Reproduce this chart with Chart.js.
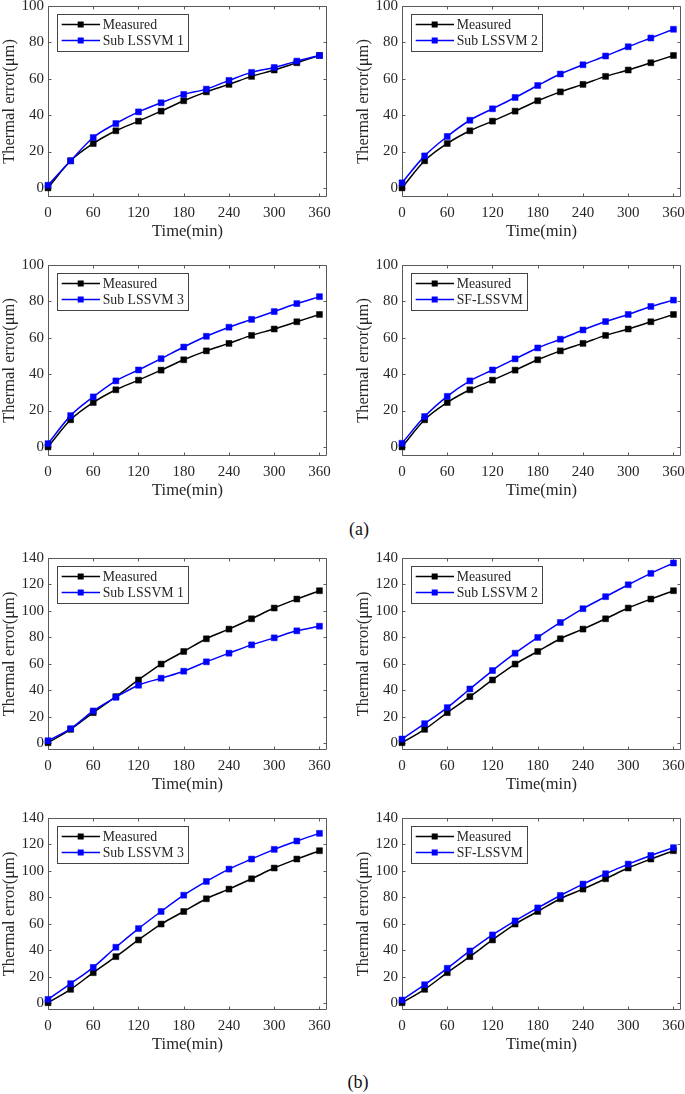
<!DOCTYPE html>
<html><head><meta charset="utf-8">
<script src="https://cdn.jsdelivr.net/npm/chart.js@4.4.0/dist/chart.umd.min.js"></script>
<style>
html,body{margin:0;padding:0;width:685px;height:1094px;overflow:hidden;background:#fff;}
body{position:relative;}
canvas{position:absolute;}
.lab{position:absolute;font-family:"Liberation Serif","Times New Roman",serif;font-size:18px;color:#111;transform:translate(-50%,-50%);white-space:nowrap;}
</style></head><body>
<div class="lab" style="left:359px;top:529px">(a)</div>
<div class="lab" style="left:358px;top:1082px">(b)</div>
<script>
// ---------- data ----------
const timeMin = [0, 30, 60, 90, 120, 150, 180, 210, 240, 270, 300, 330, 360];
const xTickLabels = [0, 60, 120, 180, 240, 300, 360];
const yTicksA = [0, 20, 40, 60, 80, 100];
const yTicksB = [0, 20, 40, 60, 80, 100, 120, 140];

const measuredA  = [0, 14.9, 24.4, 31.4, 36.7, 42.2, 47.9, 52.8, 56.9, 61.3, 64.8, 68.8, 72.8];
const subLssvm1A = [1.5, 14.9, 27.7, 35.4, 41.8, 46.8, 51.4, 54.3, 59.1, 63.5, 66.2, 69.7, 72.8];
const subLssvm2A = [2.8, 17.6, 28.3, 37.2, 43.5, 49.7, 56.3, 62.6, 67.7, 72.5, 77.6, 82.4, 87.2];
const subLssvm3A = [1.8, 17.2, 27.5, 36.3, 42.3, 48.5, 54.9, 60.8, 65.8, 70.1, 74.4, 78.8, 82.6];
const sfLssvmA   = [2.0, 16.7, 27.8, 36.3, 42.3, 48.4, 54.4, 59.2, 64.3, 68.9, 72.8, 77.2, 80.7];

const measuredB  = [0.5, 10.6, 23.2, 35.3, 47.9, 59.9, 69.4, 79.0, 86.3, 94.1, 102.2, 109.0, 115.3];
const subLssvm1B = [2.0, 11.1, 24.5, 34.8, 43.9, 49.2, 54.5, 61.6, 68.1, 74.4, 79.7, 85.0, 88.5];
const subLssvm2B = [3.3, 14.9, 27.0, 41.1, 55.0, 68.1, 80.0, 91.3, 101.7, 110.8, 119.8, 128.4, 136.2];
const subLssvm3B = [3.0, 14.9, 27.2, 42.4, 56.5, 69.4, 81.7, 92.1, 101.4, 109.0, 116.3, 122.6, 128.4];
const sfLssvmB   = [2.5, 14.1, 26.5, 39.6, 51.7, 62.3, 72.1, 81.5, 90.1, 97.9, 105.2, 111.7, 117.6];

const measuredLabel = 'Measured';
const modelLabels = ['Sub LSSVM 1', 'Sub LSSVM 2', 'Sub LSSVM 3', 'SF-LSSVM'];
const xTitle = 'Time(min)';
const yTitle = 'Thermal error(\u03bcm)';

// ---------- layout ----------
const FONT = '"Liberation Serif","Times New Roman",serif';
Chart.defaults.font.family = FONT;
const cols = [
  {canvasLeft: 0, canvasWidth: 342, plotLeft: 48, plotRight: 327},
  {canvasLeft: 342, canvasWidth: 360, plotLeft: 402, plotRight: 681}
];
const rows = [
  {plotTop: 6, plotBottom: 197, canvasBottom: 242, yMax: 100, yTicks: yTicksA},
  {plotTop: 265, plotBottom: 456, canvasBottom: 501, yMax: 100, yTicks: yTicksA},
  {plotTop: 558, plotBottom: 750, canvasBottom: 795, yMax: 140, yTicks: yTicksB},
  {plotTop: 818, plotBottom: 1010, canvasBottom: 1055, yMax: 140, yTicks: yTicksB}
];
const panels = [
  {row: 0, col: 0, meas: measuredA, model: subLssvm1A, label: modelLabels[0]},
  {row: 0, col: 1, meas: measuredA, model: subLssvm2A, label: modelLabels[1]},
  {row: 1, col: 0, meas: measuredA, model: subLssvm3A, label: modelLabels[2]},
  {row: 1, col: 1, meas: measuredA, model: sfLssvmA, label: modelLabels[3]},
  {row: 2, col: 0, meas: measuredB, model: subLssvm1B, label: modelLabels[0]},
  {row: 2, col: 1, meas: measuredB, model: subLssvm2B, label: modelLabels[1]},
  {row: 3, col: 0, meas: measuredB, model: subLssvm3B, label: modelLabels[2]},
  {row: 3, col: 1, meas: measuredB, model: sfLssvmB, label: modelLabels[3]}
];

const AXIS_COLOR = '#5a5a5a';
const TEXT_COLOR = '#262626';

const framePlugin = {
  id: 'frameLegend',
  beforeDatasetsDraw(chart) {
    const {ctx, chartArea: a, scales: {x, y}} = chart;
    ctx.save();
    ctx.strokeStyle = AXIS_COLOR;
    ctx.lineWidth = 1;
    const L = a.left + 0.5, R = a.right - 0.5, T = a.top + 0.5, B = a.bottom - 0.5;
    ctx.beginPath();
    ctx.rect(L, T, R - L, B - T);
    const tl = 3;
    x.ticks.forEach(t => {
      const px = Math.round(x.getPixelForValue(t.value)) + 0.5;
      ctx.moveTo(px, B); ctx.lineTo(px, B - tl);
      ctx.moveTo(px, T); ctx.lineTo(px, T + tl);
    });
    y.ticks.forEach(t => {
      const py = Math.round(y.getPixelForValue(t.value)) + 0.5;
      ctx.moveTo(L, py); ctx.lineTo(L + tl, py);
      ctx.moveTo(R, py); ctx.lineTo(R - tl, py);
    });
    ctx.stroke();
    ctx.restore();
  },
  afterDatasetsDraw(chart) {
    const {ctx, chartArea: a} = chart;
    const ds = chart.data.datasets;
    ctx.save();
    ctx.font = '13.8px ' + FONT;
    let maxW = 0;
    ds.forEach(d => { maxW = Math.max(maxW, ctx.measureText(d.label).width); });
    const bx = a.left + 9, by = a.top + 8, bw = 46 + maxW + 4, bh = 37;
    ctx.fillStyle = '#fff';
    ctx.fillRect(bx, by, bw, bh);
    ctx.strokeStyle = '#444';
    ctx.lineWidth = 1;
    ctx.strokeRect(Math.round(bx) + 0.5, Math.round(by) + 0.5, Math.round(bw), Math.round(bh));
    ds.forEach((d, i) => {
      const ry = by + (i === 0 ? 10.5 : 26.5);
      ctx.strokeStyle = d.borderColor;
      ctx.lineWidth = d.borderWidth;
      ctx.beginPath();
      ctx.moveTo(bx + 4.7, ry); ctx.lineTo(bx + 43, ry);
      ctx.stroke();
      ctx.fillStyle = d.backgroundColor;
      ctx.fillRect(bx + 23.7 - 3, ry - 3, 6, 6);
      ctx.fillStyle = TEXT_COLOR;
      ctx.textBaseline = 'middle';
      ctx.textAlign = 'left';
      ctx.fillText(d.label, bx + 45.7, ry + 0.5);
    });
    ctx.restore();
  }
};

panels.forEach(p => {
  const c = cols[p.col], r = rows[p.row];
  const canvasTop = r.plotTop - 20;
  const h = r.canvasBottom - canvasTop;
  const cv = document.createElement('canvas');
  cv.width = c.canvasWidth; cv.height = h;
  cv.style.left = c.canvasLeft + 'px';
  cv.style.top = canvasTop + 'px';
  cv.style.width = c.canvasWidth + 'px';
  cv.style.height = h + 'px';
  document.body.appendChild(cv);
  const yAxisWidth = c.plotLeft - c.canvasLeft;
  const xAxisHeight = r.canvasBottom - r.plotBottom;
  const titlePadTop = Math.max(0, (c.plotLeft - 38 - c.canvasLeft) - 9.9);
  new Chart(cv, {
    type: 'line',
    data: {
      datasets: [
        {label: measuredLabel, data: timeMin.map((t, i) => ({x: t, y: p.meas[i]})),
         borderColor: '#000000', backgroundColor: '#000000', borderWidth: 1.5,
         pointStyle: 'rect', pointRadius: 4.2, pointBorderWidth: 0.5,
         cubicInterpolationMode: 'monotone', order: 1, clip: false},
        {label: p.label, data: timeMin.map((t, i) => ({x: t, y: p.model[i]})),
         borderColor: '#0000ff', backgroundColor: '#0000ff', borderWidth: 1.5,
         pointStyle: 'rect', pointRadius: 4.2, pointBorderWidth: 0.5,
         cubicInterpolationMode: 'monotone', order: 0, clip: false}
      ]
    },
    options: {
      responsive: false,
      animation: false,
      devicePixelRatio: 1,
      events: [],
      layout: {padding: {left: 0, top: 20, right: c.canvasLeft + c.canvasWidth - c.plotRight, bottom: 0}},
      plugins: {legend: {display: false}, tooltip: {enabled: false}},
      scales: {
        x: {
          type: 'linear', min: 0, max: 370,
          afterBuildTicks: s => { s.ticks = xTickLabels.map(v => ({value: v})); },
          afterFit: s => { s.height = xAxisHeight; },
          grid: {display: false, drawTicks: false},
          border: {display: false},
          ticks: {color: TEXT_COLOR, font: {size: 15, family: FONT}, padding: 7, maxRotation: 0, autoSkip: false},
          title: {display: true, text: xTitle, color: TEXT_COLOR, font: {size: 16.5, family: FONT}, padding: 0}
        },
        y: {
          type: 'linear', min: -5, max: r.yMax,
          afterBuildTicks: s => { s.ticks = r.yTicks.map(v => ({value: v})); },
          afterFit: s => { s.width = yAxisWidth; },
          grid: {display: false, drawTicks: false},
          border: {display: false},
          ticks: {color: TEXT_COLOR, font: {size: 15, family: FONT}, padding: 4, autoSkip: false},
          title: {display: true, text: yTitle, color: TEXT_COLOR, font: {size: 16.5, family: FONT}, padding: {top: titlePadTop, bottom: 0}}
        }
      }
    },
    plugins: [framePlugin]
  });
});
</script>
</body></html>
